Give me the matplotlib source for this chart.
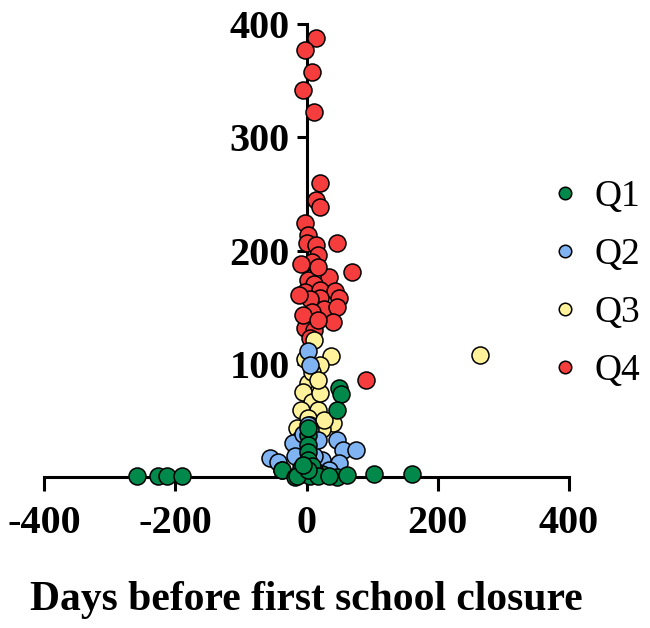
import matplotlib
matplotlib.use("Agg")
import matplotlib.pyplot as plt
from matplotlib.lines import Line2D

plt.rcParams['font.family'] = ['Liberation Serif', 'DejaVu Serif']
plt.rcParams['axes.unicode_minus'] = False

# Datos (dias, valor)
q1_x = [50, 53, 47, 2, 2, 2, 2, 2, -38, -18, 24, 46, 62, 103, 160, -258, -227, -212, -189,
        -11, -3, 5, 12, 8, -8, 17, 35, -14, 2, -5]
q1_y = [79, 73, 59, 37, 28, 22, 15, 43, 6, 0, 3, 0, 2, 3, 3, 1, 1, 1, 1,
        2, 4, 1, 6, 10, 8, 1, 1, 1, 6, 11]

q2_x = [2, 5, 5, 47, 55, 75, -56, -43, -21, 23, 50, -8, 2, 12, -17, 35, 17, -37, -5]
q2_y = [111, 99, 42, 33, 24, 24, 17, 13, 30, 15, 12, 12, 46, 19, 19, 6, 33, 6, 38]

q3_x = [12, 38, 20, 264, 2, 17, -5, 9, 17, -8, 2, 40, 23, 5, -15, 20, 8, -3, 14, -11, 27, 17]
q3_y = [121, 107, 99, 108, 83, 75, 75, 66, 59, 59, 52, 48, 42, 46, 43, 74, 93, 104, 33, 33, 50, 86]

q4_x = [14, -2, 8, -6, 12, 21, 15, 20, -2, 2, 0, 15, 46, 17, 9, 69, 35, 2, 11, -3, 20, 43,
        50, 20, 5, 27, 47, 9, 40, -3, 12, -6, 17, 91, 5, 17, -11, -8]
q4_y = [388, 377, 358, 342, 322, 260, 245, 238, 224, 214, 207, 205, 207, 196, 190, 181, 177,
        174, 170, 163, 165, 164, 158, 158, 157, 148, 150, 146, 137, 132, 130, 143, 139, 86,
        123, 185, 161, 188]

labels = ["Q1", "Q2", "Q3", "Q4"]
colors = ["#00894a", "#7fb3f2", "#fff29a", "#f53d3d"]

fig = plt.figure(figsize=(6.5, 6.28), dpi=100)
ax = fig.add_axes([0.0677, 0.2404, 0.8077, 0.7214])

series = [(q1_x, q1_y), (q2_x, q2_y), (q3_x, q3_y), (q4_x, q4_y)]
# dibujar Q4 primero, Q1 encima
for i in [3, 2, 1, 0]:
    xs, ys = series[i]
    ax.scatter(xs, ys, s=150, c=colors[i], edgecolors="black", linewidths=1.1,
               zorder=3, clip_on=False)

ax.set_xlim(-400, 400)
ax.set_ylim(0, 400)

ax.spines['left'].set_position(('data', 0))
ax.spines['bottom'].set_position(('data', 0))
ax.spines['right'].set_visible(False)
ax.spines['top'].set_visible(False)
for s in ['left', 'bottom']:
    ax.spines[s].set_linewidth(2.2)
    ax.spines[s].set_zorder(2)

ax.set_xticks([-400, -200, 0, 200, 400])
ax.set_yticks([100, 200, 300, 400])
ax.tick_params(axis='x', direction='out', length=10, width=2.2, pad=10, labelsize=29)
ax.tick_params(axis='y', direction='out', length=7, width=2.2, pad=5, labelsize=29)
for lab in ax.get_xticklabels() + ax.get_yticklabels():
    lab.set_fontweight('bold')

fig.text(0.471, 0.045, "Days before first school closure", ha='center', va='center',
         fontsize=30, fontweight='bold')

handles = [Line2D([], [], marker='o', linestyle='none', markersize=9,
                  markerfacecolor=c, markeredgecolor='black', markeredgewidth=1.1)
           for c in colors]
fig.legend(handles, labels, loc='center left', bbox_to_anchor=(0.788, 0.548),
           frameon=False, fontsize=27, labelspacing=0.62, handletextpad=0.3,
           handlelength=1.0)

fig.savefig("out.png", dpi=100)
